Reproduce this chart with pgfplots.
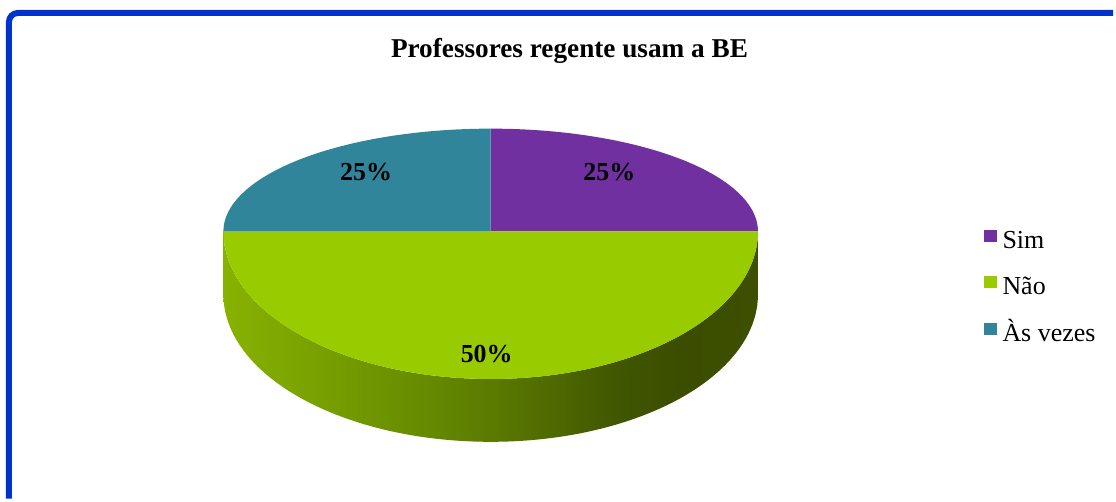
\documentclass[border=0pt]{standalone}
\usepackage{pgfplots}
\pgfplotsset{compat=1.18}
\usepackage{pgfplotstable}
\usepackage{fontspec}
\setmainfont{Liberation Serif}
\definecolor{simcol}{RGB}{112,48,160}
\definecolor{naocol}{RGB}{153,204,0}
\definecolor{vezcol}{RGB}{49,133,155}
\definecolor{bordercol}{RGB}{0,51,204}
\pgfdeclarehorizontalshading{sideshade}{100bp}{%
  color(0bp)=(rgb,255:red,136;green,178;blue,0);
  color(25bp)=(rgb,255:red,136;green,178;blue,0);
  color(35bp)=(rgb,255:red,118;green,158;blue,0);
  color(45bp)=(rgb,255:red,100;green,136;blue,0);
  color(55bp)=(rgb,255:red,80;green,108;blue,0);
  color(62bp)=(rgb,255:red,64;green,86;blue,0);
  color(68bp)=(rgb,255:red,59;green,77;blue,0);
  color(75bp)=(rgb,255:red,62;green,79;blue,0);
  color(100bp)=(rgb,255:red,62;green,79;blue,0)}
\pgfplotstableread{
label value
Sim 25
Nao 50
Vezes 25
}\pietable
\pgfplotstablegetelem{0}{value}\of\pietable \let\vA\pgfplotsretval
\pgfplotstablegetelem{1}{value}\of\pietable \let\vB\pgfplotsretval
\pgfplotstablegetelem{2}{value}\of\pietable \let\vC\pgfplotsretval
\pgfmathsetmacro{\aZero}{90}
\pgfmathsetmacro{\aOne}{\aZero-3.6*\vA}
\pgfmathsetmacro{\aTwo}{\aOne-3.6*\vB}
\pgfmathsetmacro{\aThree}{\aTwo-3.6*\vC}
\begin{document}
\begin{tikzpicture}
\begin{axis}[
  x=1pt, y=1pt, xmin=0, xmax=1116, ymin=0, ymax=500,
  scale only axis, hide axis, clip=false,
  legend image code/.code={\fill[#1, draw=none] (0pt,0.5pt) rectangle (13pt,12.5pt);},
  legend style={at={(axis cs:986,270)}, anchor=north west, draw=none, fill=none,
    font=\fontsize{26}{30}\selectfont, row sep=20.5pt, inner sep=0pt,
    column sep=5pt,
    nodes={inner sep=1pt, text height=18pt, text depth=6pt}},
  legend cell align=left,
]
% background
\fill[white] (0,0) rectangle (1116,500);
% border
\draw[line width=6pt, color=bordercol, rounded corners=9pt] (9,0) -- (9,487) -- (1116,487);
% side of pie
\path[shading=sideshade] (224,268) -- (224,205)
   arc[start angle=180, end angle=360, x radius=268pt, y radius=148pt]
   -- (760,268)
   arc[start angle=0, end angle=-180, x radius=268pt, y radius=148pt] -- cycle;
% top faces
\fill[simcol] (492,268) -- (492,371)
   arc[start angle=\aZero, end angle=\aOne, x radius=268pt, y radius=103pt] -- cycle;
\fill[naocol] (492,268) -- (760,268)
   arc[start angle=\aOne, end angle=\aTwo, x radius=268pt, y radius=148pt] -- cycle;
\fill[vezcol] (492,268) -- (224,268)
   arc[start angle=\aTwo+360, end angle=\aThree+360, x radius=268pt, y radius=103pt] -- cycle;
% labels
\node[font=\fontsize{26}{30}\selectfont\bfseries] at (611,327) {\vA\%};
\node[font=\fontsize{26}{30}\selectfont\bfseries] at (488,145) {\vB\%};
\node[font=\fontsize{26}{30}\selectfont\bfseries] at (367,327) {\vC\%};
% title
\node[font=\fontsize{27.3}{32}\selectfont\bfseries, anchor=base] at (571,442) {Professores regente usam a BE};
% legend
\addlegendimage{fill=simcol}
\addlegendentry{Sim}
\addlegendimage{fill=naocol}
\addlegendentry{Não}
\addlegendimage{fill=vezcol}
\addlegendentry{Às vezes}
\end{axis}
\end{tikzpicture}
\end{document}
